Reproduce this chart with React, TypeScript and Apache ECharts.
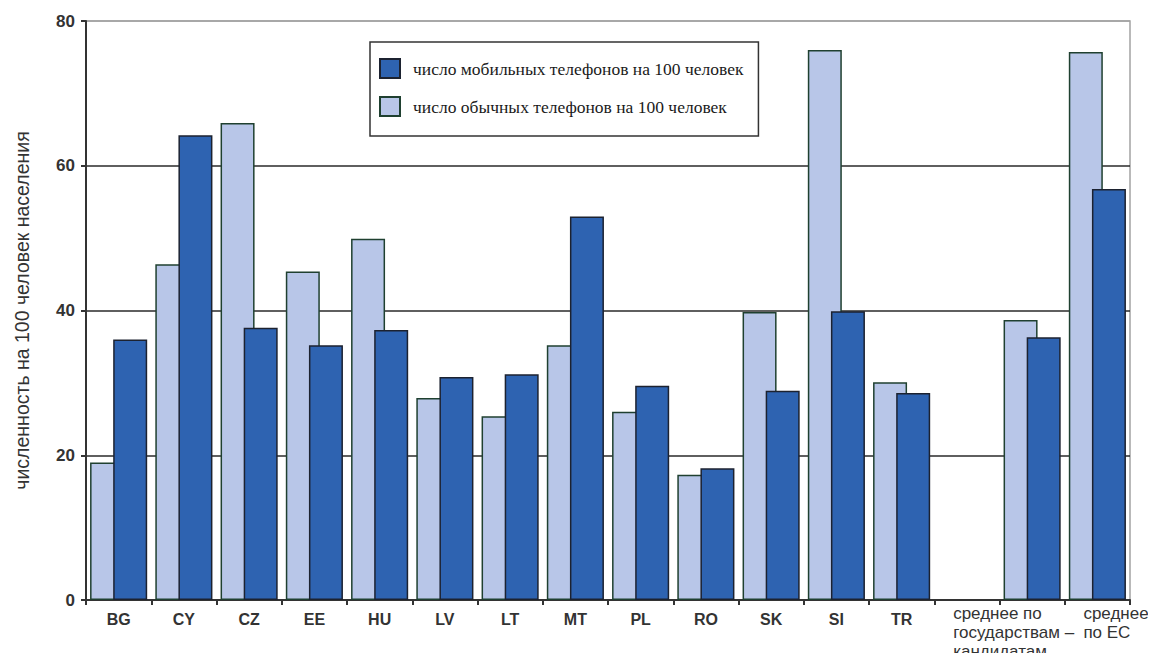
import React, { useEffect, useRef } from "react";
import * as echarts from "echarts";

// Telephones per 100 inhabitants, candidate countries vs. EU average
const categories = [
  "BG", "CY", "CZ", "EE", "HU", "LV", "LT", "MT", "PL", "RO", "SK", "SI", "TR",
  "",
  "среднее по\nгосударствам –\nкандидатам",
  "среднее\nпо ЕС",
];

const fixedPhones = [19.0, 46.4, 65.9, 45.4, 49.9, 27.9, 25.4, 35.2, 26.0, 17.3, 39.8, 76.0, 30.1, null, 38.7, 75.7];
const mobilePhones = [36.0, 64.2, 37.6, 35.2, 37.3, 30.8, 31.2, 53.0, 29.6, 18.2, 28.9, 39.9, 28.6, null, 36.3, 56.8];

const yTicks = [0, 20, 40, 60, 80];

const mobileName = "число мобильных телефонов на 100 человек";
const fixedName = "число обычных телефонов на 100 человек";
const yTitle = "численность на 100 человек населения";

const SANS = "'Liberation Sans', Arial, sans-serif";
const SERIF = "'Liberation Serif', 'Times New Roman', serif";

// Left shift of the two multi-line average labels
const labelShift: Record<string, number> = {
  "среднее по\nгосударствам –\nкандидатам": -79,
  "среднее\nпо ЕС": -14,
};

export default function App() {
  const ref = useRef<HTMLDivElement>(null);

  useEffect(() => {
    if (!ref.current) return;
    const chart = echarts.init(ref.current, null, { renderer: "svg" });

    const xData = categories.map((c) =>
      c in labelShift
        ? {
            value: c,
            textStyle: {
              align: "left",
              fontWeight: "normal",
              fontSize: 17,
              lineHeight: 19,
              padding: [-7, 0, 0, labelShift[c]],
            },
          }
        : c
    );

    chart.setOption({
      animation: false,
      backgroundColor: "#ffffff",
      grid: {
        left: 86,
        right: 26,
        top: 21,
        bottom: 61,
        outerBoundsMode: "none",
        show: true,
        borderColor: "#a3a3a3",
        borderWidth: 1.5,
        backgroundColor: "transparent",
      },
      legend: {
        orient: "vertical",
        left: 370,
        top: 42,
        data: [mobileName, fixedName],
        icon: "rect",
        itemWidth: 20,
        itemHeight: 19,
        itemGap: 17,
        padding: [16, 15, 19, 9],
        borderColor: "#333333",
        borderWidth: 1.5,
        backgroundColor: "#ffffff",
        textStyle: {
          fontFamily: SERIF,
          fontSize: 17.5,
          color: "#1a1a1a",
          padding: [0, 0, 0, 8],
        },
      },
      xAxis: {
        type: "category",
        data: xData,
        axisLine: { lineStyle: { color: "#333333", width: 2 } },
        axisTick: { show: true, length: 5, interval: 0, lineStyle: { color: "#333333", width: 2 } },
        axisLabel: {
          interval: 0,
          margin: 11,
          fontFamily: SANS,
          fontSize: 16,
          fontWeight: "bold",
          color: "#333333",
          verticalAlign: "top",
        },
        splitLine: { show: false },
      },
      yAxis: {
        type: "value",
        min: yTicks[0],
        max: yTicks[yTicks.length - 1],
        interval: 20,
        name: yTitle,
        nameLocation: "middle",
        nameGap: 54,
        nameTextStyle: {
          fontFamily: SANS,
          fontSize: 19.5,
          color: "#333333",
        },
        axisLine: { show: true, lineStyle: { color: "#333333", width: 2 } },
        axisTick: { show: true, length: 5, lineStyle: { color: "#333333", width: 2 } },
        axisLabel: {
          margin: 11,
          fontFamily: SANS,
          fontSize: 17,
          fontWeight: "bold",
          color: "#333333",
        },
        splitLine: {
          show: true,
          lineStyle: {
            color: ["rgba(0,0,0,0)", "#2a2a2a", "#2a2a2a", "#2a2a2a", "#a3a3a3"],
            width: 1.5,
          },
        },
      },
      series: [
        {
          name: fixedName,
          type: "bar",
          data: fixedPhones,
          barWidth: 34,
          barGap: "-32%",
          itemStyle: {
            color: "#b8c6e8",
            borderColor: "#1f4030",
            borderWidth: 1.5,
          },
        },
        {
          name: mobileName,
          type: "bar",
          data: mobilePhones,
          barWidth: 34,
          barGap: "-32%",
          itemStyle: {
            color: "#2e63b1",
            borderColor: "#1c2230",
            borderWidth: 1.5,
          },
        },
      ],
    });

    return () => chart.dispose();
  }, []);

  return <div ref={ref} style={{ width: 1156, height: 661, margin: -8 }} />;
}
